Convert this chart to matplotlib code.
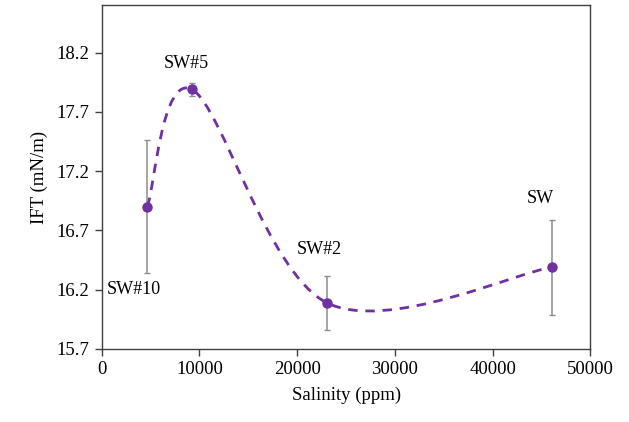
import numpy as np
import matplotlib
matplotlib.use('Agg')
import matplotlib.pyplot as plt
from matplotlib.path import Path
from matplotlib.patches import PathPatch

# data
salinity = [4663, 9233, 23037, 46043]
ift = [16.90, 17.89, 16.09, 16.39]
ift_err = [0.56, 0.055, 0.23, 0.40]
labels = ['SW#10', 'SW#5', 'SW#2', 'SW']
y_ticks = [15.7, 16.2, 16.7, 17.2, 17.7, 18.2]
x_ticks = [0, 10000, 20000, 30000, 40000, 50000]

purple = '#7030A0'
plt.rcParams['font.family'] = ['Liberation Serif', 'DejaVu Serif']
plt.rcParams['font.size'] = 13.5


def smooth_path(xs, ys):
    # Excel-style smoothed line: Catmull-Rom segments as cubic Beziers
    pts = np.column_stack([xs, ys]).astype(float)
    n = len(pts)
    verts = [pts[0]]
    codes = [Path.MOVETO]
    for i in range(n - 1):
        p0 = pts[i - 1] if i > 0 else pts[i]
        p1 = pts[i]
        p2 = pts[i + 1]
        p3 = pts[i + 2] if i + 2 < n else pts[i + 1]
        c1 = p1 + (p2 - p0) / 6.0
        c2 = p2 - (p3 - p1) / 6.0
        verts += [c1, c2, p2]
        codes += [Path.CURVE4] * 3
    return Path(verts, codes)


fig = plt.figure(figsize=(6.29, 4.22), dpi=100)
ax = fig.add_axes([0.1617, 0.173, 0.777, 0.8144])

patch = PathPatch(smooth_path(salinity, ift), fill=False, edgecolor=purple,
                  linewidth=2.0, linestyle=(0, (3.4, 2.8)), zorder=2)
ax.add_patch(patch)

ax.errorbar(salinity, ift, yerr=ift_err, fmt='none', ecolor='#8c8c8c',
            elinewidth=1.1, capsize=2.5, capthick=1.0, zorder=1)
ax.plot(salinity, ift, 'o', color=purple, markersize=6.5, zorder=3)

offsets = [(-10, -59.5), (-4, 18.5), (-5.4, 38.2), (-8.4, 49.7)]
for x, y, lab, off in zip(salinity, ift, labels, offsets):
    ax.annotate(lab, (x, y), xytext=off, textcoords='offset points',
                ha='center', va='center', fontsize=13)

ax.set_xlim(0, 50000)
ax.set_ylim(15.7, 18.6)
ax.set_xticks(x_ticks)
ax.set_yticks(y_ticks)
ax.set_yticklabels([f'{v:.1f}' for v in y_ticks])
ax.tick_params(direction='out', length=5, width=1, color='#404040', pad=4)

for sp in ax.spines.values():
    sp.set_color('#404040')
    sp.set_linewidth(1.0)

ax.set_xlabel('Salinity (ppm)', labelpad=6)
ax.set_ylabel('IFT (mN/m)', labelpad=6)

fig.savefig('out.png', dpi=100)
